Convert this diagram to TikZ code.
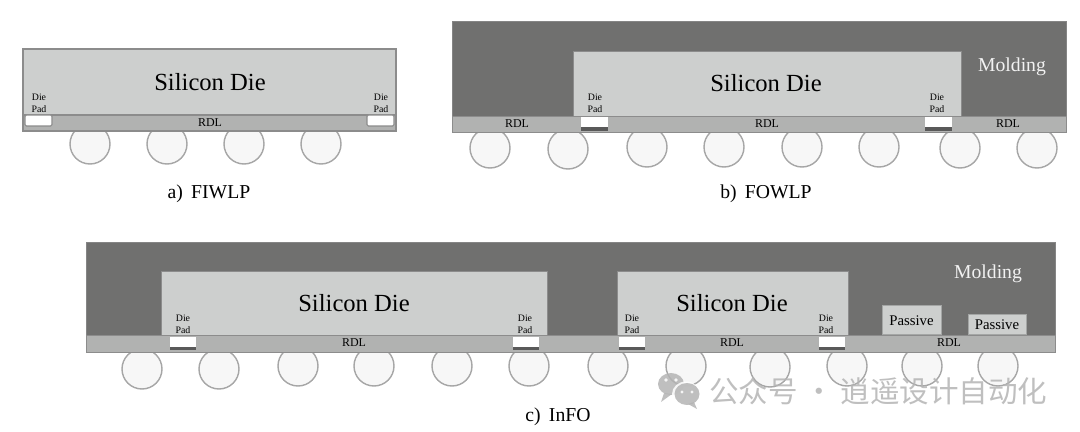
\documentclass[tikz,border=0pt]{standalone}
\usepackage{fontspec}
\setmainfont{Liberation Serif}
\newfontfamily\cjk{Noto Sans CJK SC}
\definecolor{diegray}{HTML}{CDCFCE}
\definecolor{rdlgray}{HTML}{B1B2B1}
\definecolor{moldgray}{HTML}{70706F}
\definecolor{edgegray}{HTML}{8C8C8C}
\definecolor{bumpgray}{HTML}{A6A6A6}
\definecolor{markgray}{HTML}{B4B4B4}
\tikzset{
  die/.style={fill=diegray,draw=edgegray,line width=0.6pt},
  rdl/.style={fill=rdlgray,draw=edgegray,line width=0.6pt},
  mold/.style={fill=moldgray,draw=moldgray!85,line width=0.4pt},
  bump/.style={fill=black!3,draw=bumpgray,line width=1pt},
  pad/.style={fill=white,draw=none},
  padfoot/.style={fill=black!65,draw=none},
  dielabel/.style={font=\fontsize{17.5}{20}\selectfont},
  padlabel/.style={font=\fontsize{7}{8.6}\selectfont,align=center,inner sep=0pt},
  rdllabel/.style={font=\fontsize{8.5}{10}\selectfont,inner sep=0pt},
  caption/.style={font=\fontsize{14}{16}\selectfont},
  moldlabel/.style={font=\fontsize{14}{16}\selectfont,text=white!95!black},
  passive/.style={font=\fontsize{10.5}{12}\selectfont,fill=diegray,draw=diegray!80!black,line width=0.4pt,inner sep=0pt,anchor=south}
}
\begin{document}
\begin{tikzpicture}[x=0.025cm,y=-0.025cm]
  \useasboundingbox (0,0) rectangle (1080,432);
  % a) fan-in
  \foreach \x in {90,167,244,321}
    \draw[bump] (\x,144) circle[radius=20];
  \draw[die,line width=1pt] (23,49) rectangle (396,115);
  \draw[rdl,line width=1pt] (23,115) rectangle (396,131);
  \draw[pad,rounded corners=1pt,draw=edgegray,line width=0.8pt] (25,115) rectangle (52,126);
  \draw[pad,rounded corners=1pt,draw=edgegray,line width=0.8pt] (367,115) rectangle (394,126);
  \node[dielabel] (dieA) at (210,82) {Silicon Die};
  \node[rdllabel] (rdlA) at (210,123) {RDL};
  \node[padlabel] (padA1) at (39,103) {Die\\Pad};
  \node[padlabel] (padA2) at (381,103) {Die\\Pad};
  \node[caption] (capA) at (209,194) {a)\, FIWLP};

  % b) fan-out
  \foreach \x/\y in {490/148,568/149,647/147,724/147,802/147,879/147,960/148,1037/148}
    \draw[bump] (\x,\y) circle[radius=20];
  \fill[mold] (452,21) rectangle (1066,116);
  \draw[die] (573,51) rectangle (961,116);
  \draw[rdl] (452,116) rectangle (1066,132);
  \foreach \x in {581,925} {
    \fill[padfoot] (\x,127) rectangle ++(27,4);
    \fill[pad] (\x,117) rectangle ++(27,10);
  }
  \node[dielabel] (dieB) at (766,83) {Silicon Die};
  \node[moldlabel] (moldB) at (1012,67) {Molding};
  \node[rdllabel] (rdlB1) at (517,124) {RDL};
  \node[rdllabel] (rdlB2) at (767,124) {RDL};
  \node[rdllabel] (rdlB3) at (1008,124) {RDL};
  \node[padlabel] (padB1) at (595,103) {Die\\Pad};
  \node[padlabel] (padB2) at (937,103) {Die\\Pad};
  \node[caption] (capB) at (766,194) {b)\, FOWLP};

  % c) InFO with two dies and passives
  \foreach \x/\y in {142/369,219/369,298/366,374/366,452/366,529/366,608/366,686/366,770/367,847/366,922/366,998/366}
    \draw[bump] (\x,\y) circle[radius=20];
  \fill[mold] (86,242) rectangle (1055,335);
  \draw[die] (161,271) rectangle (547,335);
  \draw[die] (617,271) rectangle (848,335);
  \draw[rdl] (86,335) rectangle (1055,352);
  \foreach \x in {170,513,619,819} {
    \fill[padfoot] (\x,347) rectangle ++(26,3);
    \fill[pad] (\x,337) rectangle ++(26,10);
  }
  \node[passive,minimum width=1.475cm,minimum height=0.725cm] (pasC1) at (911.5,335) {Passive};
  \node[passive,minimum width=1.45cm,minimum height=0.5cm] (pasC2) at (997,335) {Passive};
  \node[dielabel] (dieC1) at (354,303) {Silicon Die};
  \node[dielabel] (dieC2) at (732,303) {Silicon Die};
  \node[moldlabel] (moldC) at (988,274) {Molding};
  \node[rdllabel] (rdlC1) at (354,343) {RDL};
  \node[rdllabel] (rdlC2) at (732,343) {RDL};
  \node[rdllabel] (rdlC3) at (949,343) {RDL};
  \foreach \x/\nm in {183/1,525/2,632/3,826/4}
    \node[padlabel] (padC\nm) at (\x,324) {Die\\Pad};
  \node[caption] (capC) at (558,417) {c)\, InFO};

  % account mark over the bumps
  \begin{scope}[opacity=0.85]
    \fill[markgray] (671,384) ellipse (13 and 11);
    \fill[markgray] (664,393) -- (661,402) -- (672,394) -- cycle;
    \fill[white] (686,394) ellipse (14 and 12.5);
    \fill[markgray] (687,394) ellipse (12.5 and 11);
    \fill[markgray] (694,402) -- (697,409) -- (688,404) -- cycle;
    \foreach \x/\y in {666/380,676/380} \fill[white] (\x,\y) circle[radius=1.8];
    \foreach \x/\y in {682/392,692/392} \fill[white] (\x,\y) circle[radius=1.6];
    \node[text=markgray,font=\cjk\fontsize{21}{24}\selectfont,inner sep=0pt,anchor=west] (mark) at (709,391) {公众号 · 逍遥设计自动化};
  \end{scope}
\end{tikzpicture}
\end{document}
